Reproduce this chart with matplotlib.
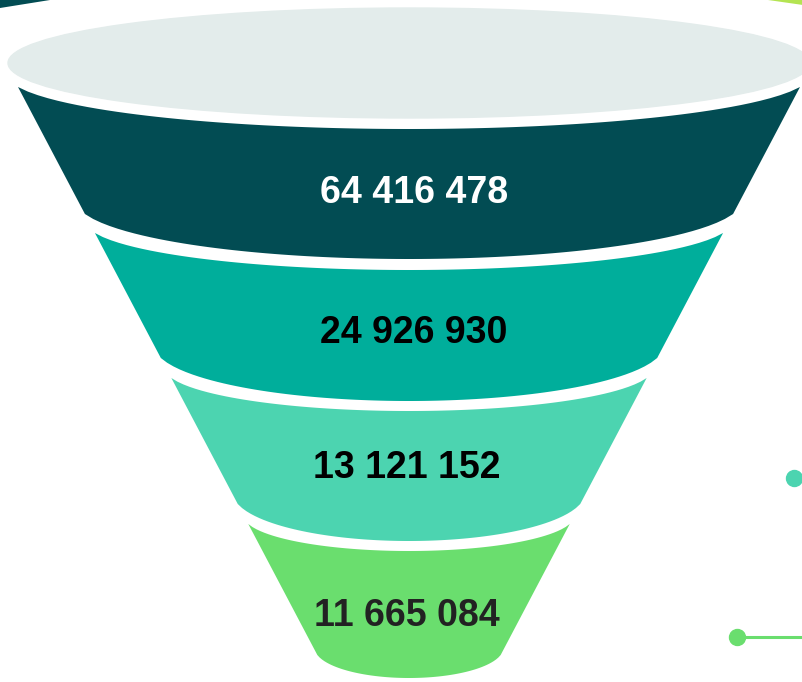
import numpy as np
import matplotlib.pyplot as plt
from matplotlib.patches import Ellipse, Polygon

# --------------------------------------------------
# Data
# --------------------------------------------------

values = [64416478, 24926930, 13121152, 11665084]
seg_colors = ["#024C53", "#00AE9B", "#4CD4B0", "#6ADE6E"]
text_colors = ["#FFFFFF", "#000000", "#000000", "#222222"]

labels = [f"{v:,}".replace(",", " ") for v in values]

# --------------------------------------------------
# Layout (pixel space, y pointing down)
# --------------------------------------------------

W, H = 803, 682
CX = 409            # funnel axis
TOP_Y = 87          # first segment top corner
TOP_HW = 391        # half width at TOP_Y
SLOPE = 0.527       # half width lost per pixel down

seg_top = [87, 233, 378, 524]
seg_bot = [214, 358, 504, 655]
top_sag = [42, 37, 33, 27]
bot_sag = [45, 43, 37, 23]
text_x = [414, 414, 407, 407]
text_y = [193, 333, 468, 616]


def half_width(y):
    return TOP_HW - SLOPE * (y - TOP_Y)


def arc(y_corner, sag, hw, n=80, reverse=False):
    a = hw * 1.03
    s0 = np.sqrt(1 - (hw / a) ** 2)
    dx = np.linspace(-hw, hw, n)
    if reverse:
        dx = dx[::-1]
    s = np.sqrt(1 - (dx / a) ** 2)
    y = y_corner + sag * (s - s0) / (1 - s0)
    return np.column_stack([CX + dx, y])


fig = plt.figure(figsize=(W / 100, H / 100), dpi=100)
ax = fig.add_axes([0, 0, 1, 1])
ax.set_xlim(0, W)
ax.set_ylim(H, 0)
ax.axis("off")

# top rim
ax.add_patch(Ellipse((CX, 63), 802, 110, color="#E3ECEB", zorder=1))

# funnel segments
for i, (label, col, tcol) in enumerate(zip(labels, seg_colors, text_colors)):
    y0, y1 = seg_top[i], seg_bot[i]
    top = arc(y0, top_sag[i], half_width(y0))
    bottom = arc(y1, bot_sag[i], half_width(y1), reverse=True)
    pts = np.vstack([top, bottom])
    ax.add_patch(Polygon(pts, closed=True, color=col, lw=0, zorder=2))
    ax.text(
        text_x[i], text_y[i], label,
        ha="center", va="center",
        fontsize=27, fontweight="bold",
        family=["Liberation Sans", "DejaVu Sans"],
        color=tcol, zorder=3
    )

# corner decorations
ax.add_patch(Polygon([(0, 0), (50, 0), (0, 8)], color="#024C53", lw=0))
ax.add_patch(Polygon([(768, 0), (803, 0), (803, 5)], color="#B4E452", lw=0))

ax.plot([794, 803], [478, 478], color="#4CD4B0", lw=2, solid_capstyle="butt")
ax.plot([794], [478], "o", color="#4CD4B0", ms=11.5)
ax.plot([737, 803], [637, 637], color="#6ADE6E", lw=2.2, solid_capstyle="butt")
ax.plot([737], [637], "o", color="#6ADE6E", ms=11.5)

fig.savefig("out.png", dpi=100)
plt.close(fig)
